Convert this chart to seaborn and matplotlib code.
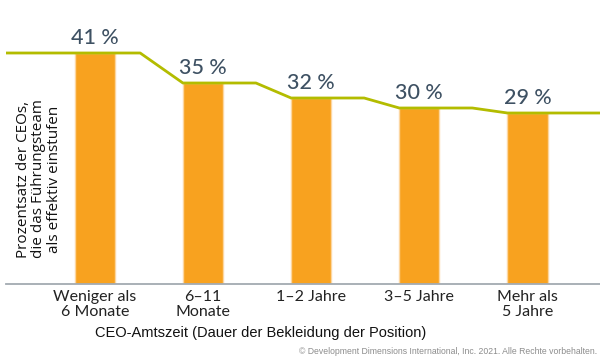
import numpy as np
import pandas as pd
import matplotlib
matplotlib.use("Agg")
import matplotlib.pyplot as plt
import seaborn as sns

# ---- data ----
categories = ["Weniger als\n6 Monate", "6–11\nMonate", "1–2 Jahre", "3–5 Jahre", "Mehr als\n5 Jahre"]
values = [41, 35, 32, 30, 29]
value_labels = ["41 %", "35 %", "32 %", "30 %", "29 %"]
y_label = "Prozentsatz der CEOs,\ndie das Führungsteam\nals effektiv einstufen"
x_label = "CEO-Amtszeit (Dauer der Bekleidung der Position)"
footer = "© Development Dimensions International, Inc. 2021. Alle Rechte vorbehalten."

# ---- style ----
sns.set_theme(style="white")
plt.rcParams['font.family'] = ['Lato', 'DejaVu Sans']

BAR_COLOR = "#F8A21F"
BAR_EDGE = "#FCD6A0"
LINE_COLOR = "#B3BC00"
LABEL_COLOR = "#3E5163"
AXIS_COLOR = "#A3AAB1"

base = -5.2          # value at the axis baseline
ymax = 51.6
xlim = (-0.82, 4.67)
bar_w = 0.37

fig = plt.figure(figsize=(6, 3.63), dpi=100)
ax = fig.add_axes([0.01, 1 - 284 / 363, 0.99, 284 / 363])

df = pd.DataFrame({"cat": categories, "val": values})
df["h"] = df["val"] - base
sns.barplot(data=df, x="cat", y="h", bottom=base, color=BAR_COLOR, saturation=1,
            width=bar_w, edgecolor=BAR_EDGE, linewidth=1.0, ax=ax, zorder=2)

# step line
n = len(values)
xs, ys = [xlim[0]], [values[0]]
for i, v in enumerate(values):
    if i > 0:
        xs.append(i - bar_w / 2); ys.append(v)
    if i < n - 1:
        xs.append(i + (0.42 if i == 0 else 0.49)); ys.append(v)
xs.append(xlim[1]); ys.append(values[-1])
ax.plot(xs, ys, color=LINE_COLOR, lw=2.0, zorder=3, solid_joinstyle="round")

for i, (v, t) in enumerate(zip(values, value_labels)):
    ax.annotate(t, (i, v), xytext=(0, 3.5), textcoords="offset points",
                ha="center", va="bottom", fontsize=15.5, color=LABEL_COLOR,
                fontweight="medium")

ax.set_xlim(*xlim)
ax.set_ylim(base, ymax)
ax.set_yticks([])
ax.set_xlabel("")
ax.set_ylabel("")
for s in ["top", "right", "left"]:
    ax.spines[s].set_visible(False)
ax.spines["bottom"].set_color(AXIS_COLOR)
ax.spines["bottom"].set_linewidth(1.3)
ax.tick_params(axis="x", length=0, pad=4, labelsize=11.5, labelcolor="#222222")
for lab in ax.get_xticklabels():
    lab.set_linespacing(1.15)

ax.text(39 / 600, 1 - 179 / 363, y_label, transform=fig.transFigure, rotation=90,
        ha="center", va="center", fontsize=11, linespacing=1.05, color="#111111",
        family=["Open Sans", "DejaVu Sans"])

fig.text(261 / 600, 1 - 333 / 363, x_label, ha="center", va="center",
         fontsize=10.5, color="#111111", family=["Liberation Sans", "DejaVu Sans"])
fig.text(597 / 600, 1 - 351 / 363, footer, ha="right", va="center",
         fontsize=6.2, color="#8C8C8C",
         family=["Liberation Sans Narrow", "Liberation Sans", "DejaVu Sans"])

fig.savefig("out.png", dpi=100)
